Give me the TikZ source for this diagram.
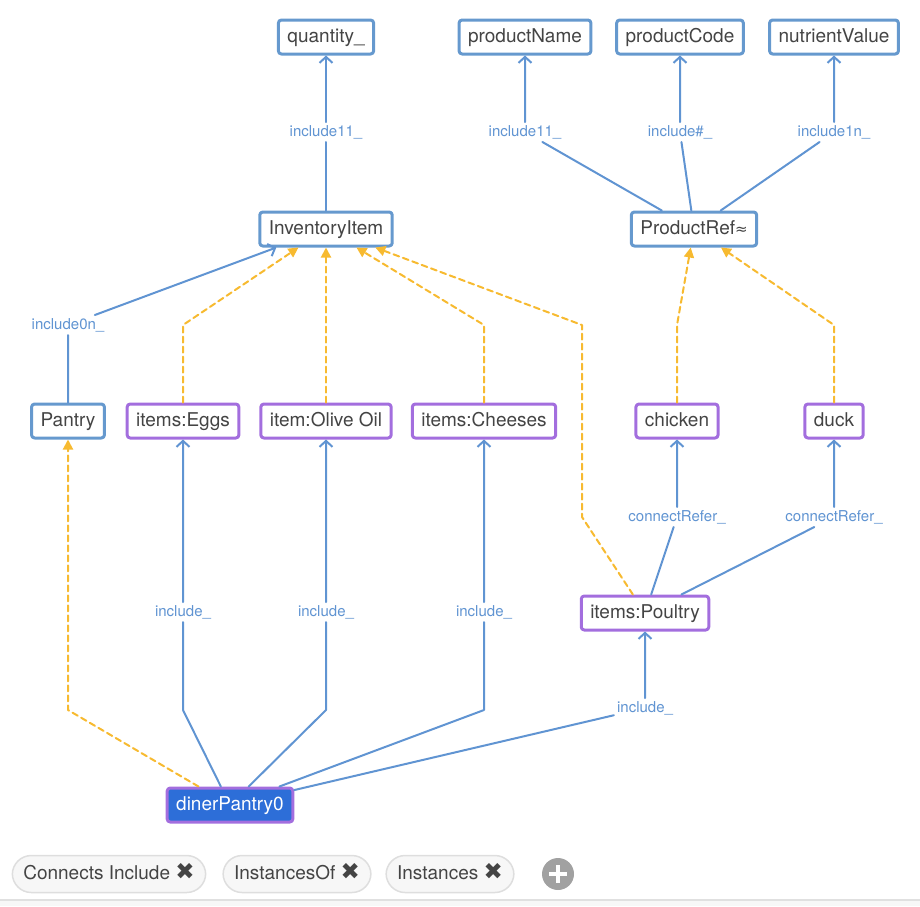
\documentclass[tikz,border=0pt]{standalone}
\usepackage{fontspec}
\setmainfont{TeX Gyre Heros}
\newfontfamily\symfont{DejaVu Sans}
\usetikzlibrary{arrows.meta}
\definecolor{clsblue}{RGB}{102,153,206}
\definecolor{edgeblue}{RGB}{96,148,210}
\definecolor{instpurple}{RGB}{163,110,222}
\definecolor{isayellow}{RGB}{247,186,48}
\definecolor{dinerblue}{RGB}{45,110,216}
\definecolor{txtgray}{RGB}{68,68,68}
\newcommand\nodefont{\fontsize{19}{22}\selectfont}
\newcommand\lblfont{\fontsize{15}{17}\selectfont}
\newcommand\pillx{{\symfont\fontsize{23}{22}\selectfont ✖}}
\tikzset{
  cls/.style={draw=clsblue, line width=3pt, rounded corners=3pt, fill=white, text=txtgray,
    font=\nodefont, minimum height=34pt, inner xsep=9pt, inner ysep=0pt,
    text height=13.5pt, text depth=3.5pt},
  inst/.style={cls, draw=instpurple},
  lbl/.style={fill=white, text=edgeblue, font=\lblfont, inner sep=3pt},
  rel/.style={draw=edgeblue, line width=2pt, -{Straight Barb[length=6pt,width=13pt,line width=2pt]}},
  isa/.style={draw=isayellow, line width=2pt, dash pattern=on 6pt off 4pt,
    -{Triangle[length=10pt,width=10pt,fill=isayellow]}},
  pill/.style={draw=black!13, fill=black!3, line width=1.5pt, rounded corners=19pt, text=txtgray,
    font=\nodefont, minimum height=37pt, inner xsep=11pt, inner ysep=0pt,
    text height=13.5pt, text depth=3.5pt}
}
\begin{document}
\begin{tikzpicture}[x=1pt,y=-1pt, line join=round, line cap=round]
\useasboundingbox (0,0) rectangle (920,906);
% classes
\path (326,37) node[cls] (qty) {quantity\_}
  (525,37) node[cls] (pname) {productName}
  (680,37) node[cls] (pcode) {productCode}
  (834,37) node[cls] (nval) {nutrientValue}
  (326,229) node[cls] (invitem) {InventoryItem}
  (694,229) node[cls] (prodref) {ProductRef{\symfont\fontsize{15}{17}\selectfont ≈}}
  (68,421) node[cls] (pantry) {Pantry};
% instances
\path (183,421) node[inst] (eggs) {items:Eggs}
  (326,421) node[inst] (olive) {item:Olive Oil}
  (484,421) node[inst] (cheese) {items:Cheeses}
  (677,421) node[inst] (chicken) {chicken}
  (834,421) node[inst] (duck) {duck}
  (645,613) node[inst] (poultry) {items:Poultry}
  (230,805) node[inst, fill=dinerblue, text=white] (diner) {dinerPantry0};
% edge labels
\path (326,132) node[lbl] (lqty) {include11\_}
  (525,132) node[lbl] (lpname) {include11\_}
  (680,132) node[lbl] (lpcode) {include\#\_}
  (834,132) node[lbl] (lnval) {include1n\_}
  (68,325) node[lbl] (lpantry) {include0n\_}
  (677,517) node[lbl] (lchicken) {connectRefer\_}
  (834,517) node[lbl] (lduck) {connectRefer\_}
  (183,612) node[lbl] (leggs) {include\_}
  (326,612) node[lbl] (lolive) {include\_}
  (484,612) node[lbl] (lcheese) {include\_}
  (645,708) node[lbl] (lpoultry) {include\_};
% bends
\coordinate (beggs) at (183,325);
\coordinate (bcheese) at (484,325);
\coordinate (bpoultry) at (582,517);
\coordinate (bpoultry2) at (582,325);
\coordinate (bchicken) at (677,325);
\coordinate (bduck) at (834,325);
\coordinate (bpantry) at (68,710);
\coordinate (deggs) at (183,710);
\coordinate (dolive) at (326,710);
\coordinate (dcheese) at (484,710);
% include edges
\draw[rel] (invitem) -- (lqty) -- (qty);
\foreach \t/\l in {pname/lpname, pcode/lpcode, nval/lnval}
  \draw[rel] (prodref) -- (\l) -- (\t);
\draw[rel] (pantry) -- (lpantry) -- (invitem);
\foreach \t/\l in {chicken/lchicken, duck/lduck}
  \draw[rel] (poultry) -- (\l) -- (\t);
\foreach \t/\d in {eggs/deggs, olive/dolive, cheese/dcheese}
  \draw[rel] (diner) -- (\d) -- (l\t) -- (\t);
\draw[rel] (diner) -- (lpoultry) -- (poultry);
% instance-of edges
\draw[isa] (eggs) -- (beggs) -- (invitem);
\draw[isa] (olive) -- (invitem);
\draw[isa] (cheese) -- (bcheese) -- (invitem);
\draw[isa] (poultry) -- (bpoultry) -- (bpoultry2) -- (invitem);
\draw[isa] (chicken) -- (bchicken) -- (prodref);
\draw[isa] (duck) -- (bduck) -- (prodref);
\draw[isa] (diner) -- (bpantry) -- (pantry);
% toolbar
\path (109,874) node[pill] (pconn) {Connects Include \pillx}
  (297,874) node[pill] (pinstof) {InstancesOf \pillx}
  (450,874) node[pill] (pinst) {Instances \pillx};
\node[circle, fill=black!37, minimum size=32pt, inner sep=0pt] (padd) at (558,874) {};
\draw[white, line width=3.5pt, line cap=butt] (padd.center) ++(-9,0) -- ++(18,0) (padd.center) ++(0,-9) -- ++(0,18);
\fill[black!3] (0,900) rectangle (920,906);
\draw[black!12, line width=1.5pt] (0,900) -- (920,900);
\end{tikzpicture}
\end{document}
